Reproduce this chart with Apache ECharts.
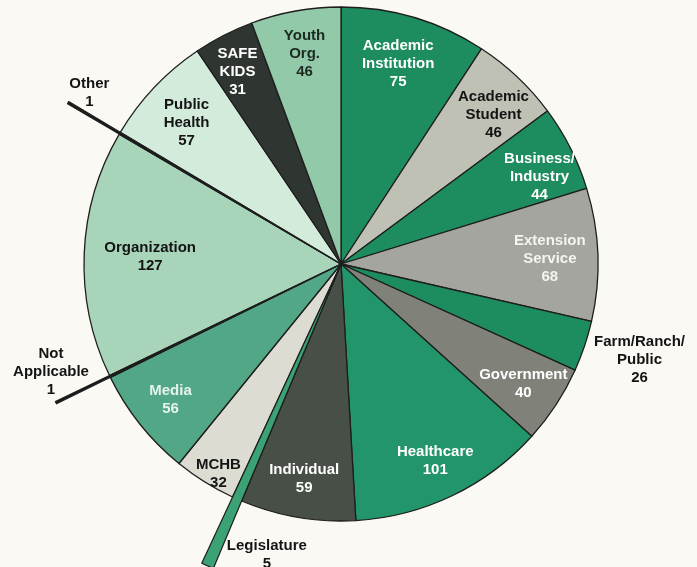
<!DOCTYPE html>
<html>
<head>
<meta charset="utf-8">
<script src="https://cdn.jsdelivr.net/npm/echarts@6/dist/echarts.min.js"></script>
<style>
html,body{margin:0;padding:0;background:#fbf9f4;}
#c{width:697px;height:567px;}
</style>
</head>
<body>
<div id="c"></div>
<script>
// ---- data ----
var categories = ['Academic\nInstitution','Academic\nStudent','Business/\nIndustry','Extension\nService','Farm/Ranch/\nPublic','Government','Healthcare','Individual','Legislature','MCHB','Media','Not\nApplicable','Organization','Other','Public\nHealth','SAFE\nKIDS','Youth\nOrg.'];
var values = [75,46,44,68,26,40,101,59,5,32,56,1,127,1,57,31,46];

// ---- styles ----
var colors = ['#1d8c5e','#bfc1b4','#1d8c5e','#a4a59e','#1d8c5e','#808179','#23956a','#484f47','#3aa275','#dcdcd2','#52a886','#1a1a1a','#a8d5b9','#1a1a1a','#d2ebdb','#2f3530','#92c9a8'];
var textColors = ['#ffffff','#141414','#ffffff','#f4f4f0','#141414','#ffffff','#ffffff','#ffffff','#141414','#141414','#e6f4ec','#141414','#141414','#141414','#141414','#ffffff','#1c2a22'];
var outsideOffsets = {
  'Farm/Ranch/\nPublic': [92, 26],
  'Legislature': [14, 91],
  'Not\nApplicable': [-94, 12],
  'Other': [-64, -60],
  'MCHB': [-7, 25],
  'Organization': [27, 2],
  'Academic\nStudent': [3, 10],
  'Business/\nIndustry': [4, 11],
  'Extension\nService': [-9, 3],
  'Academic\nInstitution': [-5, 9],
  'Youth\nOrg.': [2, 4],
  'Public\nHealth': [4, 9],
  'SAFE\nKIDS': [-4, 2]
};
var FONT = '"Liberation Sans", Arial, sans-serif';
var center = [341, 264];

function baseData(styleFn) {
  return categories.map(function (c, i) {
    return { name: c, value: values[i], itemStyle: styleFn(i, c) };
  });
}

var mainData = baseData(function (i) {
  return { color: colors[i], borderColor: '#1e1e1e', borderWidth: 1.3 };
});

function overlayData(names) {
  return baseData(function (i, c) {
    if (names.indexOf(c) >= 0) return { color: colors[i], borderColor: '#1e1e1e', borderWidth: 1.2 };
    return { color: 'rgba(0,0,0,0)', borderWidth: 0 };
  });
}

var labelData = categories.map(function (c, i) {
  return {
    name: c, value: values[i],
    itemStyle: { color: 'rgba(0,0,0,0)', borderWidth: 0 },
    label: { color: textColors[i] }
  };
});

var common = {
  type: 'pie', center: center, startAngle: 90, clockwise: true,
  avoidLabelOverlap: false, silent: true, animation: false,
  emphasis: { disabled: true }, labelLine: { show: false }
};

var chart = echarts.init(document.getElementById('c'));
chart.setOption({
  backgroundColor: '#fbf9f4',
  series: [
    Object.assign({}, common, {
      radius: [0, 257], data: mainData, label: { show: false }
    }),
    Object.assign({}, common, {
      radius: [0, 330], data: overlayData(['Legislature']), label: { show: false }
    }),
    Object.assign({}, common, {
      radius: [0, 317], data: overlayData(['Other', 'Not\nApplicable']), label: { show: false }
    }),
    Object.assign({}, common, {
      radius: [170, 260], data: labelData,
      label: {
        show: true, position: 'inside', rotate: 0,
        fontFamily: FONT, fontWeight: 'bold', fontSize: 15, lineHeight: 18,
        align: 'center',
        formatter: function (p) { return p.name + '\n' + p.value; }
      },
      labelLayout: function (p) {
        var o = outsideOffsets[categories[p.dataIndex]];
        if (o) return { dx: o[0], dy: o[1] };
        return {};
      }
    })
  ]
});
</script>
</body>
</html>
